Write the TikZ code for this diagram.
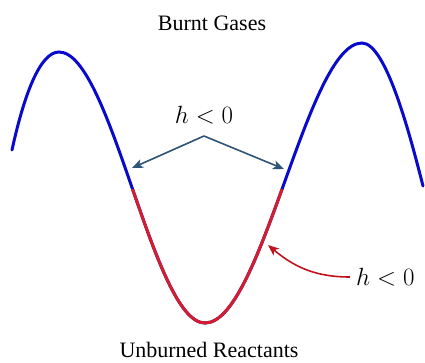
\documentclass[tikz,border=0pt]{standalone}
\usepackage{fontspec}
\setmainfont{Liberation Serif}
\usetikzlibrary{arrows.meta}
\definecolor{waveblue}{RGB}{10,10,205}
\definecolor{wavered}{RGB}{210,30,45}
\definecolor{arrowblue}{RGB}{46,84,122}
\definecolor{arrowred}{RGB}{190,20,30}
\tikzset{
  lbl/.style={font=\fontsize{22}{26}\selectfont, inner sep=0pt},
  mlbl/.style={font=\fontsize{23.5}{28}\selectfont, inner sep=0pt},
  wave/.style={line width=3pt, line cap=round},
  blueptr/.style={draw=arrowblue, line width=1.6pt, -{Stealth[length=11pt,width=9pt,inset=3pt]}},
  redptr/.style={draw=arrowred, line width=1.6pt, -{Stealth[length=11pt,width=9pt,inset=3pt]}}
}
\def\wavepath{(12,150) .. controls (24,95) and (40,52) .. (59,52)
  .. controls (111,52) and (153,323) .. (205,323)
  .. controls (262,323) and (307,43) .. (362,43)
  .. controls (386,43) and (410,135) .. (423,186)}
\begin{document}
\begin{tikzpicture}[x=1pt,y=-1pt]
\useasboundingbox (0,0) rectangle (425,362);
\draw[wave, waveblue] \wavepath;
\begin{scope}
  \clip (100,189) rectangle (300,362);
  \draw[wave, wavered] \wavepath;
\end{scope}
\node[lbl, anchor=base] (burnt) at (212,30) {Burnt Gases};
\node[lbl, anchor=base] (unburned) at (209,357) {Unburned Reactants};
\node[mlbl, anchor=base] (h1) at (204,123) {$h<0$};
\node[mlbl, anchor=base west] (h2) at (356,285) {$h<0$};
\coordinate (apex) at (204,136);
\coordinate (tipL) at (132,168);
\coordinate (tipR) at (284,169);
\coordinate (tipRed) at (268,245);
\coordinate (redstart) at (350,277);
\draw[blueptr] (apex) -- (tipL);
\draw[blueptr] (apex) -- (tipR);
\draw[redptr] (redstart) to[out=180, in=-40] (tipRed);
\end{tikzpicture}
\end{document}
